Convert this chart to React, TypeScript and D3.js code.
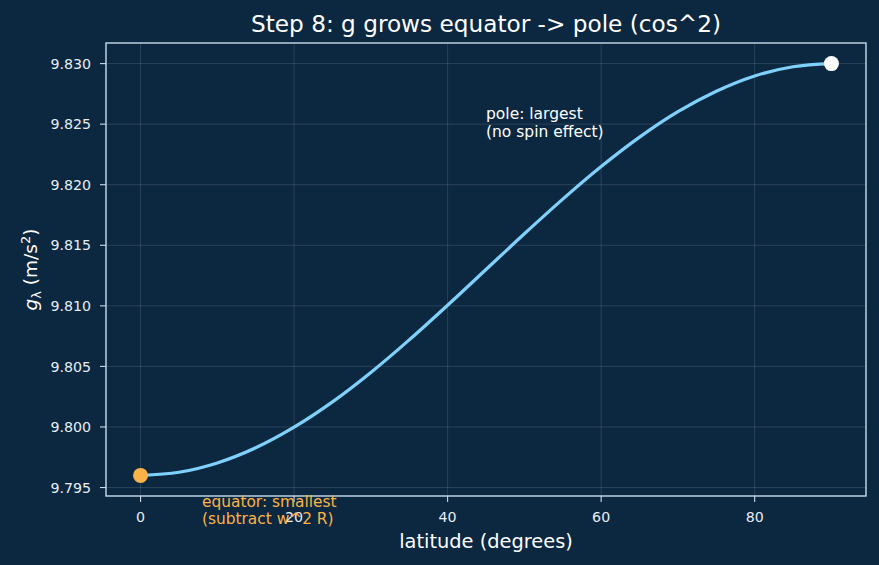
import React from "react";
import * as d3 from "d3";

const latitudes = [0, 5, 10, 15, 20, 25, 30, 35, 40, 45, 50, 55, 60, 65, 70, 75, 80, 85, 90];
const gValues = [
  9.796, 9.79626, 9.79703, 9.79828, 9.79998, 9.80207, 9.8045, 9.80719, 9.81005, 9.813,
  9.81595, 9.81881, 9.8215, 9.82393, 9.82603, 9.82772, 9.82898, 9.82974, 9.83,
];
const xTicks = [0, 20, 40, 60, 80];
const yTicks = [9.795, 9.8, 9.805, 9.81, 9.815, 9.82, 9.825, 9.83];
const equatorPoint = { lat: 0, g: 9.796 };
const polePoint = { lat: 90, g: 9.83 };
const titleText = "Step 8: g grows equator -> pole (cos^2)";
const xLabel = "latitude (degrees)";
const poleNote = ["pole: largest", "(no spin effect)"];
const equatorNote = ["equator: smallest", "(subtract w^2 R)"];

const W = 879;
const H = 565;
const M = { left: 106, right: 866, top: 43, bottom: 496 };
const BG = "#0c2740";
const FG = "#e6eef6";
const SPINE = "#c8dcec";
const LINE = "#7fd1fb";
const ORANGE = "#fbb347";
const FONT = "'DejaVu Sans', sans-serif";

export default function App() {
  const x = d3.scaleLinear().domain([-4.5, 94.5]).range([M.left, M.right]);
  const y = d3.scaleLinear().domain([9.7943, 9.8317]).range([M.bottom, M.top]);
  const pts = latitudes.map((l, i) => [l, gValues[i]] as [number, number]);
  const line = d3
    .line<[number, number]>()
    .x((d) => x(d[0]))
    .y((d) => y(d[1]))
    .curve(d3.curveMonotoneX);

  return (
    <svg
      width={W}
      height={H}
      style={{ position: "absolute", left: 0, top: 0, display: "block" }}
      fontFamily={FONT}
    >
      <rect x={0} y={0} width={W} height={H} fill={BG} />
      {/* grid */}
      {xTicks.map((t) => (
        <line key={"gx" + t} x1={x(t)} x2={x(t)} y1={M.top} y2={M.bottom} stroke="#ffffff" strokeOpacity={0.14} strokeWidth={0.9} />
      ))}
      {yTicks.map((t) => (
        <line key={"gy" + t} x1={M.left} x2={M.right} y1={y(t)} y2={y(t)} stroke="#ffffff" strokeOpacity={0.14} strokeWidth={0.9} />
      ))}
      {/* curve */}
      <path d={line(pts) || ""} fill="none" stroke={LINE} strokeWidth={3.2} strokeLinecap="round" />
      <circle cx={x(equatorPoint.lat)} cy={y(equatorPoint.g)} r={7.5} fill={ORANGE} />
      <circle cx={x(polePoint.lat)} cy={y(polePoint.g)} r={7.5} fill="#ffffff" />
      {/* spines */}
      <rect x={M.left} y={M.top} width={M.right - M.left} height={M.bottom - M.top} fill="none" stroke={SPINE} strokeWidth={1.4} />
      {/* x ticks */}
      {xTicks.map((t) => (
        <g key={"xt" + t}>
          <line x1={x(t)} x2={x(t)} y1={M.bottom} y2={M.bottom + 6} stroke={SPINE} strokeWidth={1.1} />
          <text x={x(t)} y={521.5} textAnchor="middle" fontSize={14.2} fill={FG}>
            {t}
          </text>
        </g>
      ))}
      {/* y ticks */}
      {yTicks.map((t) => (
        <g key={"yt" + t}>
          <line x1={M.left - 6} x2={M.left} y1={y(t)} y2={y(t)} stroke={SPINE} strokeWidth={1.1} />
          <text x={91} y={y(t)} dy="0.36em" textAnchor="end" fontSize={14.2} fill={FG}>
            {t.toFixed(3)}
          </text>
        </g>
      ))}
      {/* title */}
      <text x={(M.left + M.right) / 2} y={31.5} textAnchor="middle" fontSize={23.2} fill="#ffffff">
        {titleText}
      </text>
      {/* x label */}
      <text x={(M.left + M.right) / 2} y={548} textAnchor="middle" fontSize={19.4} fill="#ffffff">
        {xLabel}
      </text>
      {/* y label */}
      <text
        transform={`translate(37, ${(M.top + M.bottom) / 2}) rotate(-90)`}
        textAnchor="middle"
        fontSize={18.5}
        fill="#ffffff"
      >
        <tspan fontStyle="italic">g</tspan>
        <tspan fontSize={13} dy={3.5}>λ</tspan>
        <tspan dy={-3.5}> (m/s</tspan>
        <tspan fontSize={13} dy={-7}>2</tspan>
        <tspan dy={7}>)</tspan>
      </text>
      {/* annotations */}
      <text x={x(45)} y={119} fontSize={15.5} fill="#ffffff">
        <tspan x={x(45)}>{poleNote[0]}</tspan>
        <tspan x={x(45)} dy={17.5}>{poleNote[1]}</tspan>
      </text>
      <text x={x(8)} y={507} fontSize={15.4} fill={ORANGE}>
        <tspan x={x(8)}>{equatorNote[0]}</tspan>
        <tspan x={x(8)} dy={17}>{equatorNote[1]}</tspan>
      </text>
    </svg>
  );
}
